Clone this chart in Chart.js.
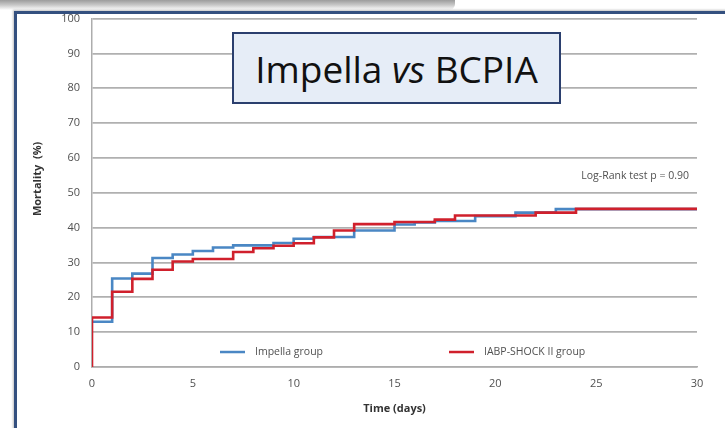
<!DOCTYPE html>
<html>
<head>
<meta charset="utf-8">
<script src="https://cdn.jsdelivr.net/npm/chart.js@4/dist/chart.umd.min.js"></script>
<style>
    body { margin: 0; background: #fff; }
    #wrap { position: relative; width: 725px; height: 428px; overflow: hidden; background: #fff; }
    #shadow {
        position: absolute; left: 0; top: 0; width: 455px; height: 10px;
        background: linear-gradient(#9c9c9c, #c8c8c8 50%, rgba(255,255,255,0));
        border-bottom-right-radius: 6px;
    }
    #frame {
        position: absolute; left: 14px; top: 11px; width: 730px; height: 430px;
        border-left: 3px solid #34507f; border-top: 3px solid #34507f;
        box-shadow: -1px -1px 2px rgba(0,0,0,0.25);
    }
    #chart { position: absolute; left: 0; top: 0; }
    #titleBox {
        position: absolute; left: 232px; top: 32px; width: 325px; height: 68px;
        background: #e6edf7; border: 2px solid #2b3f6e;
        font-family: "Open Sans", sans-serif; font-size: 37px; color: #111;
        display: flex; align-items: center; justify-content: center;
        white-space: nowrap;
    }
</style>
</head>
<body>
<div id="wrap">
    <div id="shadow"></div>
    <div id="frame"></div>
    <canvas id="chart" width="725" height="428"></canvas>
    <div id="titleBox"><span>Impella <i>vs</i> BCPIA</span></div>
</div>
<script>
// Kaplan-Meier steps (day, mortality %)
const impellaDays = [0, 1, 2, 3, 4, 5, 6, 7, 9, 10, 11, 13, 15, 16, 17, 19, 21, 23, 30];
const impellaMortality = [13.0, 25.4, 26.8, 31.3, 32.3, 33.3, 34.3, 34.9, 35.6, 36.8, 37.3, 39.2, 40.9, 41.5, 41.9, 43.3, 44.3, 45.3, 45.3];

const iabpDays = [0, 0, 1, 2, 3, 4, 5, 7, 8, 9, 10, 11, 12, 13, 15, 17, 18, 22, 24, 30];
const iabpMortality = [0, 14.2, 21.6, 25.3, 27.9, 30.3, 31.0, 33.0, 34.1, 34.8, 35.5, 37.2, 39.2, 41.0, 41.6, 42.3, 43.5, 44.3, 45.4, 45.4];

const seriesLabels = ["Impella group", "IABP-SHOCK II group"];
const seriesColors = ["#4a87c4", "#d0202c"];

const xTitle = "Time (days)";
const yTitle = "Mortality  (%)";
const testNote = "Log-Rank test p = 0.90";

const textColor = "#505050";
const fontFamily = "'Open Sans', sans-serif";

function toPoints(days, values) {
    return days.map((d, i) => ({ x: d, y: values[i] }));
}

// Draws y title, in-plot legend and the log-rank note
const extrasPlugin = {
    id: "extras",
    afterDraw(chart) {
        const ctx = chart.ctx;
        const x = chart.scales.x;
        const y = chart.scales.y;
        ctx.save();

        // y axis title
        ctx.font = "bold 11px " + fontFamily;
        ctx.fillStyle = "#333";
        ctx.textAlign = "center";
        ctx.textBaseline = "middle";
        ctx.translate(38, y.getPixelForValue(54));
        ctx.rotate(-Math.PI / 2);
        ctx.fillText(yTitle, 0, 0);
        ctx.restore();

        // legend
        ctx.save();
        ctx.font = "10.5px " + fontFamily;
        ctx.textBaseline = "middle";
        ctx.textAlign = "left";
        const legendY = y.getPixelForValue(4.3);
        const starts = [220, 449];
        chart.data.datasets.forEach((ds, i) => {
            ctx.strokeStyle = ds.borderColor;
            ctx.lineWidth = 2.5;
            ctx.beginPath();
            ctx.moveTo(starts[i], legendY);
            ctx.lineTo(starts[i] + 25, legendY);
            ctx.stroke();
            ctx.fillStyle = textColor;
            ctx.fillText(ds.label, starts[i] + 35, legendY);
        });

        // log-rank note
        ctx.textAlign = "right";
        ctx.fillText(testNote, x.getPixelForValue(29.6), y.getPixelForValue(54.9));
        ctx.restore();
    }
};

const ctx = document.getElementById("chart").getContext("2d");
new Chart(ctx, {
    type: "line",
    data: {
        datasets: [
            {
                label: seriesLabels[0],
                data: toPoints(impellaDays, impellaMortality),
                borderColor: seriesColors[0],
                borderWidth: 2.6,
                stepped: true,
                pointRadius: 0,
                order: 1,
            },
            {
                label: seriesLabels[1],
                data: toPoints(iabpDays, iabpMortality),
                borderColor: seriesColors[1],
                borderWidth: 2.6,
                stepped: true,
                pointRadius: 0,
                order: 0,
            },
        ],
    },
    options: {
        responsive: false,
        animation: false,
        layout: { padding: { left: 0, top: 17, right: 28, bottom: 0 } },
        plugins: {
            legend: { display: false },
            tooltip: { enabled: false },
        },
        scales: {
            x: {
                type: "linear",
                min: 0,
                max: 30,
                afterFit: (s) => { s.height = 61; },
                ticks: {
                    stepSize: 5,
                    padding: 10,
                    color: textColor,
                    font: { family: fontFamily, size: 11 },
                },
                grid: { display: false, drawTicks: false },
                border: { color: "#adadad", width: 1.5 },
                title: {
                    display: true,
                    text: xTitle,
                    color: "#333",
                    font: { family: fontFamily, size: 11, weight: "bold" },
                    padding: { top: 0, bottom: 13 },
                },
            },
            y: {
                min: 0,
                max: 100,
                afterFit: (s) => { s.width = 92; },
                ticks: {
                    stepSize: 10,
                    padding: 12,
                    color: textColor,
                    font: { family: fontFamily, size: 11 },
                },
                grid: { color: "#b0b0b0", lineWidth: 1.8, drawTicks: false },
                border: { color: "#adadad", width: 1.5 },
            },
        },
    },
    plugins: [extrasPlugin],
});
</script>
</body>
</html>
